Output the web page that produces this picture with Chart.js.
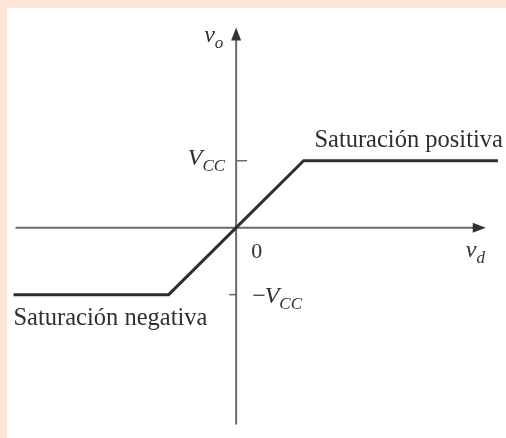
<!DOCTYPE html>
<html>
<head>
<meta charset="utf-8">
<script src="https://cdn.jsdelivr.net/npm/chart.js@4"></script>
<style>
  html, body { margin: 0; padding: 0; width: 506px; height: 438px; overflow: hidden; background: #fde6d8; }
  #paper { position: absolute; left: 7px; top: 8px; right: 0; bottom: 0; background: #ffffff; }
  #c { position: absolute; left: 0; top: 0; }
</style>
</head>
<body>
<div id="paper"></div>
<canvas id="c" width="506" height="438"></canvas>
<script>
// Transfer characteristic v_o(v_d), with v_o in units of V_CC
const vd = [-3.3, -1.0, 1.0, 3.88];
const vo = [-1, -1, 1, 1];
// Axis extents (data units)
const xAxisRange = [-3.27, 3.70];
const yAxisRange = [-2.94, 2.99];
// Tick values on the v_o axis
const tickValues = [1, -1];
const tickLabels = ['V', '−V'];
// Text annotations
const regionLabels = ['Saturación positiva', 'Saturación negativa'];
const regionLabelX = [1.16, -3.30];
const regionLabelY = [1.21, -1.45];

const serif = '"Liberation Serif", "Times New Roman", serif';
const ink = '#2f2f2f';
const axisInk = '#6a6a6a';

const overlay = {
  id: 'overlay',
  beforeDatasetsDraw(chart) {
    const ctx = chart.ctx, xs = chart.scales.x, ys = chart.scales.y;
    const x0 = xs.getPixelForValue(0), y0 = ys.getPixelForValue(0);
    ctx.save();
    ctx.strokeStyle = axisInk; ctx.fillStyle = '#333';
    ctx.lineWidth = 2;
    // horizontal axis
    const xl = xs.getPixelForValue(xAxisRange[0]), xr = xs.getPixelForValue(xAxisRange[1]);
    ctx.beginPath(); ctx.moveTo(xl, y0); ctx.lineTo(xr - 10, y0); ctx.stroke();
    ctx.beginPath(); ctx.moveTo(xr, y0); ctx.lineTo(xr - 13, y0 - 5); ctx.lineTo(xr - 13, y0 + 5); ctx.closePath(); ctx.fill();
    // vertical axis
    const yb = ys.getPixelForValue(yAxisRange[0]), yt = ys.getPixelForValue(yAxisRange[1]);
    ctx.beginPath(); ctx.moveTo(x0, yb); ctx.lineTo(x0, yt + 10); ctx.stroke();
    ctx.beginPath(); ctx.moveTo(x0, yt); ctx.lineTo(x0 - 5, yt + 13); ctx.lineTo(x0 + 5, yt + 13); ctx.closePath(); ctx.fill();
    // ticks
    ctx.lineWidth = 1.5;
    tickValues.forEach(v => {
      const y = ys.getPixelForValue(v);
      ctx.beginPath();
      if (v > 0) { ctx.moveTo(x0, y); ctx.lineTo(x0 + 11, y); }
      else { ctx.moveTo(x0 - 7, y); ctx.lineTo(x0, y); }
      ctx.stroke();
    });
    ctx.restore();
  },
  afterDatasetsDraw(chart) {
    const ctx = chart.ctx, xs = chart.scales.x, ys = chart.scales.y;
    const x0 = xs.getPixelForValue(0), y0 = ys.getPixelForValue(0);
    ctx.save();
    ctx.fillStyle = ink;
    ctx.textBaseline = 'alphabetic';
    // region labels
    ctx.font = '24.5px ' + serif;
    ctx.textAlign = 'left';
    regionLabels.forEach((t, i) => {
      ctx.fillText(t, xs.getPixelForValue(regionLabelX[i]), ys.getPixelForValue(regionLabelY[i]));
    });
    // subscripted italic label helper
    function sub(main, s, x, y, align) {
      ctx.font = 'italic 24px ' + serif;
      const w1 = ctx.measureText(main).width;
      ctx.font = 'italic 17px ' + serif;
      const w2 = ctx.measureText(s).width;
      let sx = x;
      if (align === 'right') sx = x - w1 - w2;
      ctx.textAlign = 'left';
      ctx.font = 'italic 24px ' + serif;
      ctx.fillText(main, sx, y);
      ctx.font = 'italic 17px ' + serif;
      ctx.fillText(s, sx + w1, y + 6);
    }
    // tick labels V_CC and -V_CC
    const yP = ys.getPixelForValue(tickValues[0]);
    const yN = ys.getPixelForValue(tickValues[1]);
    sub(tickLabels[0], 'CC', x0 - 11, yP + 4, 'right');
    ctx.font = '24px ' + serif; ctx.textAlign = 'left';
    ctx.fillText('−', x0 + 16, yN + 8);
    const mw = ctx.measureText('−').width;
    sub('V', 'CC', x0 + 16 + mw - 1, yN + 8, 'left');
    // axis names
    sub('v', 'o', x0 - 32, ys.getPixelForValue(yAxisRange[1]) + 15, 'left');
    sub('v', 'd', xs.getPixelForValue(xAxisRange[1]) - 20, y0 + 29, 'left');
    // origin
    ctx.font = '22px ' + serif; ctx.textAlign = 'left';
    ctx.fillText('0', x0 + 15, y0 + 30);
    ctx.restore();
  }
};

new Chart(document.getElementById('c'), {
  type: 'scatter',
  data: {
    datasets: [{
      data: vd.map((x, i) => ({ x: x, y: vo[i] })),
      showLine: true,
      borderColor: ink,
      borderWidth: 3,
      pointRadius: 0,
      tension: 0,
      clip: false
    }]
  },
  options: {
    responsive: false,
    animation: false,
    layout: { padding: 0 },
    plugins: { legend: { display: false }, tooltip: { enabled: false } },
    scales: {
      x: { type: 'linear', display: false, min: -3.5, max: 4.0 },
      y: { type: 'linear', display: false, min: -3.14, max: 3.4 }
    }
  },
  plugins: [overlay]
});
</script>
</body>
</html>
